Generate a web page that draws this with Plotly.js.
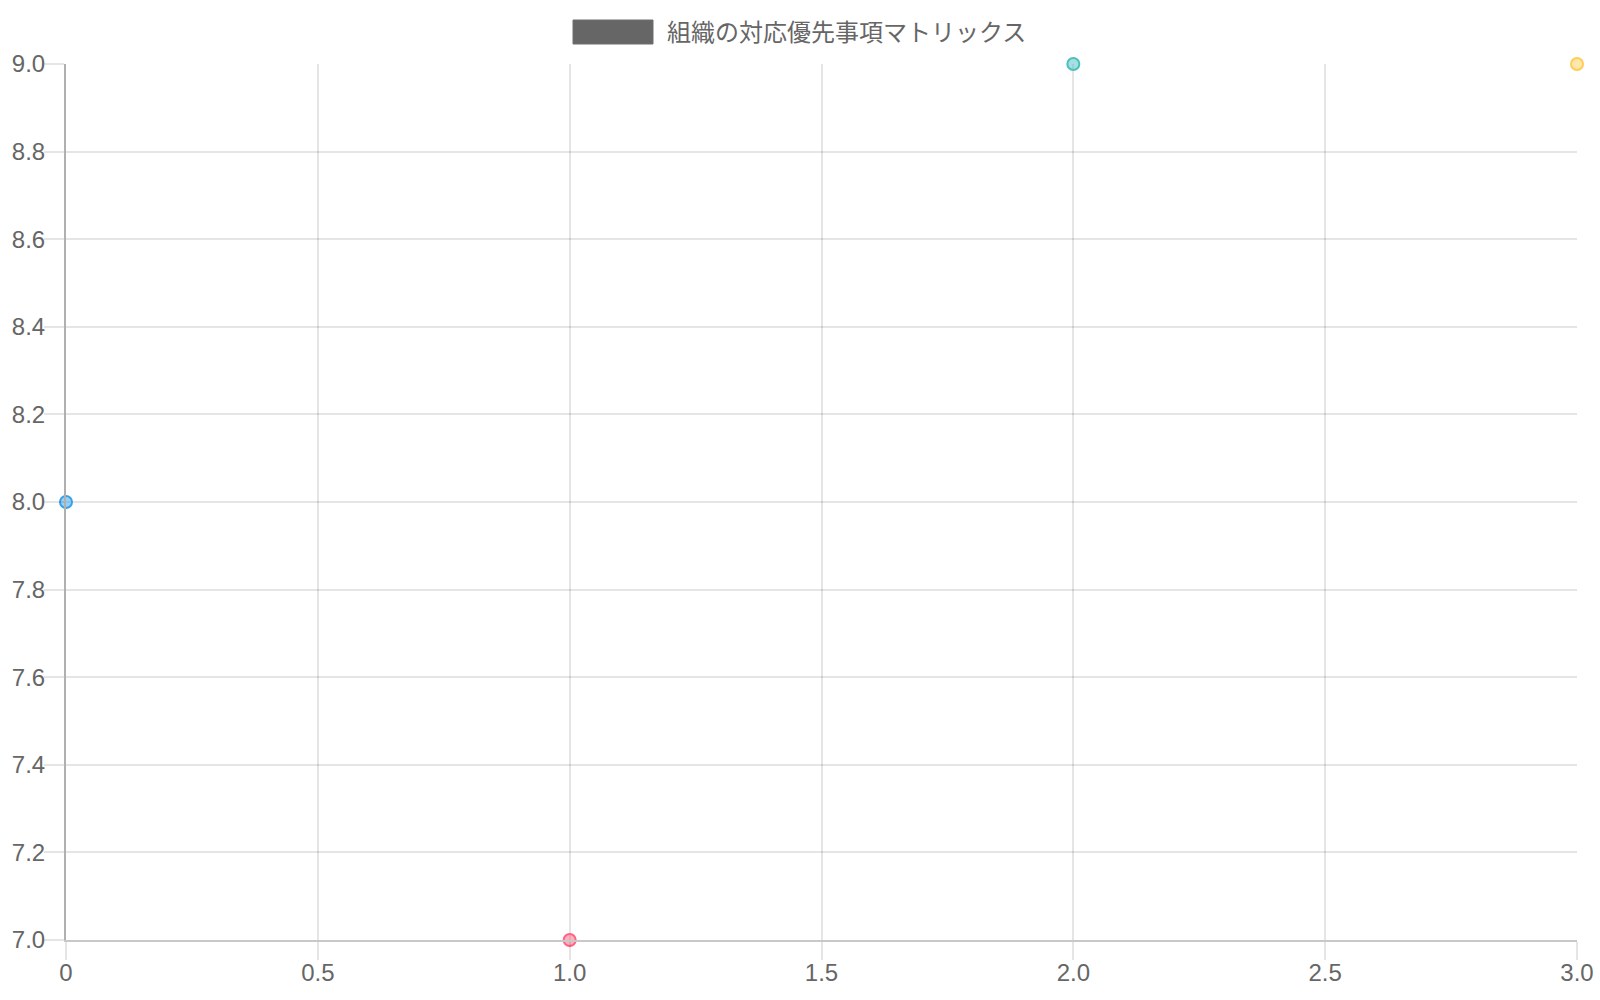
<!DOCTYPE html>
<html>
<head>
<meta charset="utf-8">
<script src="https://cdn.plot.ly/plotly-3.0.1.min.js"></script>
<style>
  html, body { margin: 0; padding: 0; background: #fff; }
  #chart { width: 1600px; height: 1000px; }
</style>
</head>
<body>
<div id="chart"></div>
<script>
// data
var seriesName = '組織の対応優先事項マトリックス';
var xValues = [0, 1, 2, 3];
var yValues = [8, 7, 9, 9];
var pointColors = ['54,162,235', '255,99,132', '75,192,192', '255,205,86'];

var xTickVals = [0, 0.5, 1, 1.5, 2, 2.5, 3];
var xTickText = ['0', '0.5', '1.0', '1.5', '2.0', '2.5', '3.0'];

var FONT = 'Liberation Sans, Arial, Noto Sans CJK JP, sans-serif';
var gridColor = 'rgba(0,0,0,0.1)';

// plot area in pixels (chart.js style, drawn at 2x)
var L = 66, R = 23, T = 64, B = 60, W = 1600, H = 1000;
var plotW = W - L - R, plotH = H - T - B;
var px = (p) => (p - L) / plotW;
var py = (p) => 1 + (T - p) / plotH;

var trace = {
    type: 'scatter',
    mode: 'markers',
    x: xValues,
    y: yValues,
    name: seriesName,
    showlegend: false,
    cliponaxis: false,
    hoverinfo: 'x+y',
    marker: {
        size: 12,
        color: pointColors.map(c => 'rgba(' + c + ',0.5)'),
        line: {color: pointColors.map(c => 'rgb(' + c + ')'), width: 2}
    }
};

var layout = {
    width: W,
    height: H,
    margin: {l: L, r: R, t: T, b: B, pad: 0},
    paper_bgcolor: '#fff',
    plot_bgcolor: '#fff',
    font: {family: FONT, size: 24, color: '#666'},
    showlegend: false,
    xaxis: {
        range: [0, 3],
        tickvals: xTickVals,
        ticktext: xTickText,
        showgrid: true,
        gridcolor: gridColor,
        gridwidth: 2,
        zeroline: false,
        showline: true,
        linecolor: '#c8c8c8',
        linewidth: 2,
        ticks: 'outside',
        ticklen: 18,
        tickwidth: 2,
        tickcolor: gridColor,
        ticklabelstandoff: -8,
        tickfont: {family: FONT, size: 24, color: '#666'},
        fixedrange: true
    },
    yaxis: {
        range: [7, 9],
        dtick: 0.2,
        tick0: 7,
        tickformat: '.1f',
        showgrid: true,
        gridcolor: gridColor,
        gridwidth: 2,
        zeroline: false,
        showline: true,
        linecolor: '#b0b0b0',
        linewidth: 2,
        ticks: 'outside',
        ticklen: 20,
        tickwidth: 2,
        tickcolor: gridColor,
        ticklabelstandoff: -6,
        tickfont: {family: FONT, size: 24, color: '#666'},
        fixedrange: true
    },
    // legend box + label, chart.js style
    shapes: [{
        type: 'rect',
        xref: 'paper', yref: 'paper',
        xsizemode: 'pixel', ysizemode: 'pixel',
        xanchor: px(573), yanchor: py(32),
        x0: 0, x1: 80, y0: -12, y1: 12,
        fillcolor: '#666',
        line: {color: '#6e6e6e', width: 1}
    }],
    annotations: [{
        xref: 'paper', yref: 'paper',
        x: px(665), y: py(32),
        xanchor: 'left', yanchor: 'middle',
        showarrow: false,
        text: seriesName,
        font: {family: FONT, size: 24, color: '#666'}
    }]
};

Plotly.newPlot('chart', [trace], layout, {displayModeBar: false, staticPlot: true});
</script>
</body>
</html>
